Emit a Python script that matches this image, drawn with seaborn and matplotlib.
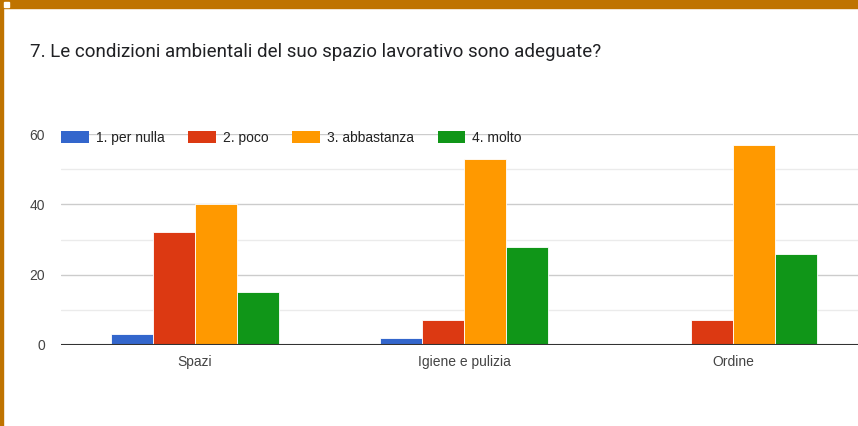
import pandas as pd
import matplotlib
matplotlib.use('Agg')
import matplotlib.pyplot as plt
import seaborn as sns
from matplotlib.patches import Rectangle
from matplotlib.ticker import MultipleLocator

categories = ['Spazi', 'Igiene e pulizia', 'Ordine']
levels = ['1. per nulla', '2. poco', '3. abbastanza', '4. molto']
per_nulla = [3, 2, 0]
poco = [32, 7, 7]
abbastanza = [40, 53, 57]
molto = [15, 28, 26]
colors = ['#3366CC', '#DC3912', '#FF9900', '#109618']

rows = []
for lvl, vals in zip(levels, [per_nulla, poco, abbastanza, molto]):
    for cat, v in zip(categories, vals):
        rows.append({'cat': cat, 'level': lvl, 'n': v})
df = pd.DataFrame(rows)

sns.set_style('white')
plt.rcParams['font.family'] = ['Liberation Sans', 'DejaVu Sans']

fig = plt.figure(figsize=(8.58, 4.26), dpi=100)
ax = fig.add_axes([60.5/858, 81/426, 807/858, 211/426])

sns.barplot(data=df, x='cat', y='n', hue='level', hue_order=levels,
            palette=colors, saturation=1, width=0.625, edgecolor='white',
            linewidth=0.6, ax=ax, zorder=3)

ax.set_ylim(0, 60)
ax.set_xlim(-0.5, 2.5)
ax.yaxis.set_major_locator(MultipleLocator(20))
ax.yaxis.set_minor_locator(MultipleLocator(10))
ax.grid(axis='y', which='major', color='#cccccc', linewidth=1.0, zorder=0)
ax.grid(axis='y', which='minor', color='#ebebeb', linewidth=1.0, zorder=0)
ax.axhline(0, color='#333333', linewidth=1.5, zorder=4)
for s in ax.spines.values():
    s.set_visible(False)
ax.set_xlabel('')
ax.set_ylabel('')
ax.tick_params(axis='both', which='both', length=0, labelsize=10, colors='#444444')
ax.tick_params(axis='y', pad=11)
ax.tick_params(axis='x', pad=7)

leg = ax.legend(loc='center left', bbox_to_anchor=(-0.006, 0.98), ncol=4, frameon=False,
                fontsize=10, handlelength=2.0, handleheight=0.95, handletextpad=0.5,
                columnspacing=1.7, borderaxespad=0, labelcolor='#222222')
leg.set_zorder(5)
for h in leg.legend_handles:
    h.set_edgecolor('none')

fig.text(30/858, 1 - 52/426, '7. Le condizioni ambientali del suo spazio lavorativo sono adeguate?',
         fontsize=13.5, color='#202124', va='center', ha='left', family=['Roboto', 'DejaVu Sans'])

# border of the screenshot
fig.patches.append(Rectangle((0, 1 - 8/426), 1, 8/426, transform=fig.transFigure,
                             color='#BF7300', zorder=10))
fig.patches.append(Rectangle((0, 0), 2.5/858, 1, transform=fig.transFigure,
                             color='#BF7300', zorder=10))
fig.patches.append(Rectangle((4/858, 1 - 7/426), 5/858, 5/426, transform=fig.transFigure,
                             color='white', zorder=11))

fig.savefig('out.png', dpi=100)
